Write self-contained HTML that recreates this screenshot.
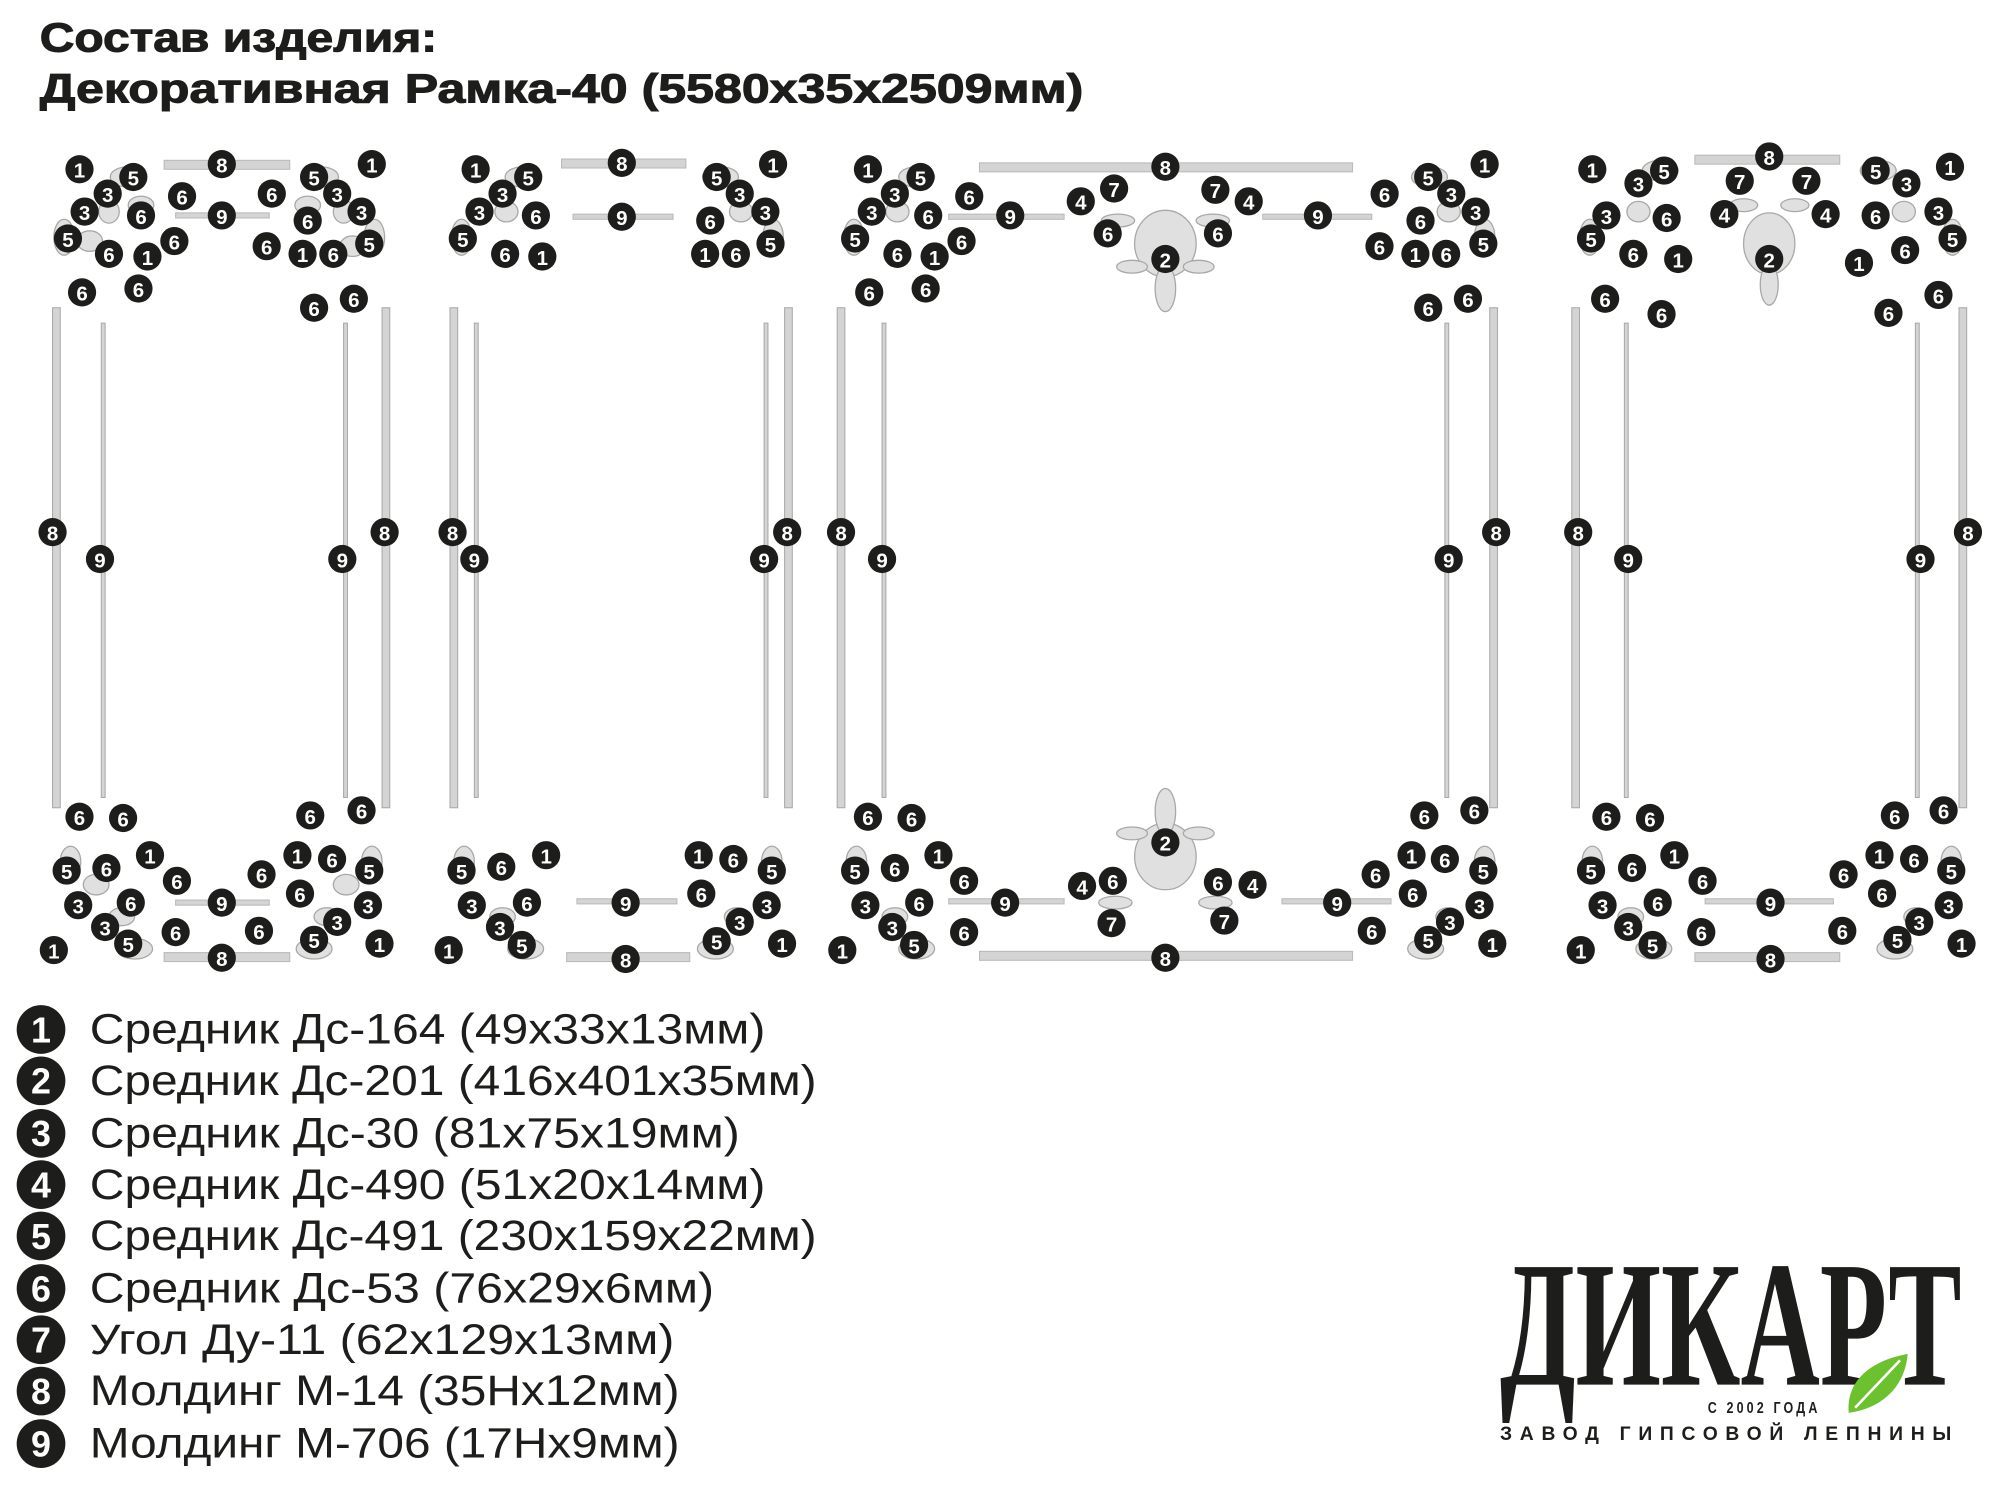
<!DOCTYPE html>
<html><head><meta charset="utf-8"><style>
html,body{margin:0;padding:0;background:#fff;width:2000px;height:1486px;overflow:hidden}
svg{display:block}
.m circle{fill:#1d1d1b;r:11px}
.m text{fill:#fff;font-family:"Liberation Sans",sans-serif;font-weight:bold;font-size:16px;text-anchor:middle;transform:translateY(0.5px)}
.b{fill:#d4d4d4;stroke:#b8b8b8;stroke-width:0.8}
.v{fill:#d4d4d4;stroke:#a8a8a8;stroke-width:0.8}
.o{fill:#e0e0e0;stroke:#a8a8a8;stroke-width:1}
.t{font-family:"Liberation Sans",sans-serif;font-weight:bold;font-size:32px;fill:#1d1d1b;stroke:#1d1d1b;stroke-width:0.8}
.lg circle{fill:#1d1d1b}
.lg text.n{fill:#fff;font-family:"Liberation Sans",sans-serif;font-weight:bold;font-size:28px;text-anchor:middle}
.lt{font-family:"Liberation Sans",sans-serif;font-size:33px;fill:#1d1d1b}
</style></head><body>
<svg width="2000" height="1486" viewBox="0 0 1560 1159" xmlns="http://www.w3.org/2000/svg">
<text class="t" x="31" y="40" textLength="310" lengthAdjust="spacingAndGlyphs">Состав изделия:</text>
<text class="t" x="31" y="80" textLength="814" lengthAdjust="spacingAndGlyphs">Декоративная Рамка-40 (5580х35х2509мм)</text>

<g>
<rect class="b" x="128" y="125" width="98" height="7"/><rect class="b" x="137" y="166" width="73" height="4"/>
<rect class="b" x="137" y="702" width="73" height="4"/><rect class="b" x="128" y="743" width="98" height="7"/>
<rect class="v" x="41" y="240" width="6" height="390"/><rect class="v" x="79" y="252" width="3" height="370"/>
<rect class="v" x="268" y="252" width="3" height="370"/><rect class="v" x="298" y="240" width="6" height="390"/>

<rect class="b" x="438" y="124" width="97" height="7"/><rect class="b" x="447" y="167" width="78" height="4"/>
<rect class="b" x="450" y="701" width="78" height="4"/><rect class="b" x="442" y="743" width="96" height="7"/>
<rect class="v" x="351" y="240" width="6" height="390"/><rect class="v" x="370" y="252" width="3" height="370"/>
<rect class="v" x="596" y="252" width="3" height="370"/><rect class="v" x="612" y="240" width="6" height="390"/>

<rect class="b" x="764" y="127" width="291" height="7"/><rect class="b" x="740" y="167" width="90" height="4"/><rect class="b" x="985" y="167" width="85" height="4"/>
<rect class="b" x="740" y="701" width="90" height="4"/><rect class="b" x="1000" y="701" width="85" height="4"/><rect class="b" x="764" y="742" width="291" height="7"/>
<rect class="v" x="653" y="240" width="6" height="390"/><rect class="v" x="688" y="252" width="3" height="370"/>
<rect class="v" x="1127" y="252" width="3" height="370"/><rect class="v" x="1162" y="240" width="6" height="390"/>

<rect class="b" x="1322" y="121" width="113" height="7"/>
<rect class="b" x="1330" y="701" width="100" height="4"/><rect class="b" x="1322" y="743" width="113" height="7"/>
<rect class="v" x="1226" y="240" width="6" height="390"/><rect class="v" x="1267" y="252" width="3" height="370"/>
<rect class="v" x="1494" y="252" width="3" height="370"/><rect class="v" x="1528" y="240" width="6" height="390"/>
</g>

<g class="o">
<ellipse cx="100" cy="138" rx="14" ry="8"/><ellipse cx="110" cy="160" rx="10" ry="7"/><ellipse cx="85" cy="165" rx="8" ry="9"/><ellipse cx="50" cy="185" rx="8" ry="14"/><ellipse cx="70" cy="188" rx="10" ry="8"/>
<ellipse cx="250" cy="138" rx="14" ry="8"/><ellipse cx="240" cy="160" rx="10" ry="7"/><ellipse cx="268" cy="165" rx="8" ry="9"/><ellipse cx="292" cy="185" rx="8" ry="14"/><ellipse cx="275" cy="192" rx="10" ry="8"/>
<ellipse cx="55" cy="672" rx="8" ry="12"/><ellipse cx="75" cy="690" rx="10" ry="8"/><ellipse cx="95" cy="715" rx="10" ry="7"/><ellipse cx="105" cy="740" rx="14" ry="8"/>
<ellipse cx="290" cy="672" rx="8" ry="12"/><ellipse cx="270" cy="690" rx="10" ry="8"/><ellipse cx="255" cy="715" rx="10" ry="7"/><ellipse cx="245" cy="740" rx="14" ry="8"/>
<ellipse cx="408" cy="138" rx="14" ry="8"/><ellipse cx="395" cy="165" rx="9" ry="8"/><ellipse cx="360" cy="185" rx="8" ry="14"/>
<ellipse cx="562" cy="138" rx="14" ry="8"/><ellipse cx="578" cy="165" rx="9" ry="8"/><ellipse cx="603" cy="185" rx="8" ry="14"/>
<ellipse cx="362" cy="672" rx="8" ry="12"/><ellipse cx="392" cy="715" rx="10" ry="7"/><ellipse cx="410" cy="740" rx="14" ry="8"/>
<ellipse cx="602" cy="672" rx="8" ry="12"/><ellipse cx="575" cy="715" rx="10" ry="7"/><ellipse cx="558" cy="740" rx="14" ry="8"/>
<ellipse cx="715" cy="138" rx="14" ry="8"/><ellipse cx="700" cy="165" rx="9" ry="8"/><ellipse cx="666" cy="185" rx="8" ry="14"/>
<ellipse cx="1115" cy="138" rx="14" ry="8"/><ellipse cx="1130" cy="165" rx="9" ry="8"/><ellipse cx="1158" cy="185" rx="8" ry="14"/>
<ellipse cx="668" cy="672" rx="8" ry="12"/><ellipse cx="698" cy="715" rx="10" ry="7"/><ellipse cx="715" cy="740" rx="14" ry="8"/>
<ellipse cx="1158" cy="672" rx="8" ry="12"/><ellipse cx="1130" cy="715" rx="10" ry="7"/><ellipse cx="1112" cy="740" rx="14" ry="8"/>
<ellipse cx="909" cy="190" rx="24" ry="26"/><ellipse cx="909" cy="225" rx="8" ry="18"/><ellipse cx="883" cy="208" rx="12" ry="5"/><ellipse cx="935" cy="208" rx="12" ry="5"/>
<ellipse cx="872" cy="172" rx="13" ry="5"/><ellipse cx="946" cy="172" rx="13" ry="5"/>
<ellipse cx="909" cy="668" rx="24" ry="26"/><ellipse cx="909" cy="633" rx="8" ry="18"/><ellipse cx="883" cy="650" rx="12" ry="5"/><ellipse cx="935" cy="650" rx="12" ry="5"/>
<ellipse cx="870" cy="704" rx="13" ry="5"/><ellipse cx="948" cy="704" rx="13" ry="5"/>
<ellipse cx="1295" cy="133" rx="14" ry="8"/><ellipse cx="1278" cy="165" rx="9" ry="8"/><ellipse cx="1240" cy="185" rx="8" ry="14"/>
<ellipse cx="1465" cy="133" rx="14" ry="8"/><ellipse cx="1485" cy="165" rx="9" ry="8"/><ellipse cx="1523" cy="185" rx="8" ry="14"/>
<ellipse cx="1380" cy="190" rx="20" ry="24"/><ellipse cx="1380" cy="222" rx="7" ry="16"/><ellipse cx="1360" cy="160" rx="11" ry="5"/><ellipse cx="1400" cy="160" rx="11" ry="5"/>
<ellipse cx="1242" cy="672" rx="8" ry="12"/><ellipse cx="1272" cy="715" rx="10" ry="7"/><ellipse cx="1290" cy="740" rx="14" ry="8"/>
<ellipse cx="1522" cy="672" rx="8" ry="12"/><ellipse cx="1495" cy="715" rx="10" ry="7"/><ellipse cx="1478" cy="740" rx="14" ry="8"/>
</g>

<g class="m">
<circle cx="62" cy="132" r="11"/><text x="62" y="138">1</text>
<circle cx="104" cy="138" r="11"/><text x="104" y="144">5</text>
<circle cx="84" cy="151" r="11"/><text x="84" y="157">3</text>
<circle cx="142" cy="153" r="11"/><text x="142" y="159">6</text>
<circle cx="66" cy="165" r="11"/><text x="66" y="171">3</text>
<circle cx="110" cy="168" r="11"/><text x="110" y="174">6</text>
<circle cx="173" cy="168" r="11"/><text x="173" y="174">9</text>
<circle cx="173" cy="128" r="11"/><text x="173" y="134">8</text>
<circle cx="212" cy="151" r="11"/><text x="212" y="157">6</text>
<circle cx="240" cy="172" r="11"/><text x="240" y="178">6</text>
<circle cx="263" cy="151" r="11"/><text x="263" y="157">3</text>
<circle cx="245" cy="138" r="11"/><text x="245" y="144">5</text>
<circle cx="290" cy="128" r="11"/><text x="290" y="134">1</text>
<circle cx="282" cy="165" r="11"/><text x="282" y="171">3</text>
<circle cx="53" cy="186" r="11"/><text x="53" y="192">5</text>
<circle cx="85" cy="198" r="11"/><text x="85" y="204">6</text>
<circle cx="115" cy="200" r="11"/><text x="115" y="206">1</text>
<circle cx="136" cy="188" r="11"/><text x="136" y="194">6</text>
<circle cx="208" cy="192" r="11"/><text x="208" y="198">6</text>
<circle cx="236" cy="198" r="11"/><text x="236" y="204">1</text>
<circle cx="260" cy="198" r="11"/><text x="260" y="204">6</text>
<circle cx="288" cy="190" r="11"/><text x="288" y="196">5</text>
<circle cx="64" cy="228" r="11"/><text x="64" y="234">6</text>
<circle cx="108" cy="225" r="11"/><text x="108" y="231">6</text>
<circle cx="245" cy="240" r="11"/><text x="245" y="246">6</text>
<circle cx="276" cy="233" r="11"/><text x="276" y="239">6</text>
<circle cx="41" cy="415" r="11"/><text x="41" y="421">8</text>
<circle cx="78" cy="436" r="11"/><text x="78" y="442">9</text>
<circle cx="267" cy="436" r="11"/><text x="267" y="442">9</text>
<circle cx="300" cy="415" r="11"/><text x="300" y="421">8</text>
<circle cx="62" cy="637" r="11"/><text x="62" y="643">6</text>
<circle cx="96" cy="638" r="11"/><text x="96" y="644">6</text>
<circle cx="242" cy="636" r="11"/><text x="242" y="642">6</text>
<circle cx="282" cy="632" r="11"/><text x="282" y="638">6</text>
<circle cx="52" cy="679" r="11"/><text x="52" y="685">5</text>
<circle cx="83" cy="677" r="11"/><text x="83" y="683">6</text>
<circle cx="117" cy="667" r="11"/><text x="117" y="673">1</text>
<circle cx="138" cy="687" r="11"/><text x="138" y="693">6</text>
<circle cx="61" cy="706" r="11"/><text x="61" y="712">3</text>
<circle cx="102" cy="704" r="11"/><text x="102" y="710">6</text>
<circle cx="82" cy="723" r="11"/><text x="82" y="729">3</text>
<circle cx="100" cy="736" r="11"/><text x="100" y="742">5</text>
<circle cx="42" cy="741" r="11"/><text x="42" y="747">1</text>
<circle cx="137" cy="727" r="11"/><text x="137" y="733">6</text>
<circle cx="173" cy="704" r="11"/><text x="173" y="710">9</text>
<circle cx="173" cy="747" r="11"/><text x="173" y="753">8</text>
<circle cx="204" cy="682" r="11"/><text x="204" y="688">6</text>
<circle cx="232" cy="667" r="11"/><text x="232" y="673">1</text>
<circle cx="259" cy="670" r="11"/><text x="259" y="676">6</text>
<circle cx="288" cy="679" r="11"/><text x="288" y="685">5</text>
<circle cx="234" cy="697" r="11"/><text x="234" y="703">6</text>
<circle cx="287" cy="706" r="11"/><text x="287" y="712">3</text>
<circle cx="202" cy="726" r="11"/><text x="202" y="732">6</text>
<circle cx="263" cy="719" r="11"/><text x="263" y="725">3</text>
<circle cx="245" cy="733" r="11"/><text x="245" y="739">5</text>
<circle cx="296" cy="736" r="11"/><text x="296" y="742">1</text>
<circle cx="371" cy="132" r="11"/><text x="371" y="138">1</text>
<circle cx="412" cy="138" r="11"/><text x="412" y="144">5</text>
<circle cx="392" cy="151" r="11"/><text x="392" y="157">3</text>
<circle cx="374" cy="165" r="11"/><text x="374" y="171">3</text>
<circle cx="418" cy="168" r="11"/><text x="418" y="174">6</text>
<circle cx="361" cy="186" r="11"/><text x="361" y="192">5</text>
<circle cx="394" cy="198" r="11"/><text x="394" y="204">6</text>
<circle cx="423" cy="200" r="11"/><text x="423" y="206">1</text>
<circle cx="485" cy="127" r="11"/><text x="485" y="133">8</text>
<circle cx="485" cy="169" r="11"/><text x="485" y="175">9</text>
<circle cx="559" cy="138" r="11"/><text x="559" y="144">5</text>
<circle cx="603" cy="128" r="11"/><text x="603" y="134">1</text>
<circle cx="577" cy="151" r="11"/><text x="577" y="157">3</text>
<circle cx="597" cy="165" r="11"/><text x="597" y="171">3</text>
<circle cx="554" cy="172" r="11"/><text x="554" y="178">6</text>
<circle cx="601" cy="190" r="11"/><text x="601" y="196">5</text>
<circle cx="550" cy="198" r="11"/><text x="550" y="204">1</text>
<circle cx="574" cy="198" r="11"/><text x="574" y="204">6</text>
<circle cx="353" cy="415" r="11"/><text x="353" y="421">8</text>
<circle cx="370" cy="436" r="11"/><text x="370" y="442">9</text>
<circle cx="596" cy="436" r="11"/><text x="596" y="442">9</text>
<circle cx="614" cy="415" r="11"/><text x="614" y="421">8</text>
<circle cx="360" cy="679" r="11"/><text x="360" y="685">5</text>
<circle cx="391" cy="676" r="11"/><text x="391" y="682">6</text>
<circle cx="426" cy="667" r="11"/><text x="426" y="673">1</text>
<circle cx="368" cy="706" r="11"/><text x="368" y="712">3</text>
<circle cx="411" cy="704" r="11"/><text x="411" y="710">6</text>
<circle cx="390" cy="723" r="11"/><text x="390" y="729">3</text>
<circle cx="407" cy="737" r="11"/><text x="407" y="743">5</text>
<circle cx="350" cy="741" r="11"/><text x="350" y="747">1</text>
<circle cx="488" cy="704" r="11"/><text x="488" y="710">9</text>
<circle cx="488" cy="748" r="11"/><text x="488" y="754">8</text>
<circle cx="545" cy="667" r="11"/><text x="545" y="673">1</text>
<circle cx="572" cy="670" r="11"/><text x="572" y="676">6</text>
<circle cx="602" cy="679" r="11"/><text x="602" y="685">5</text>
<circle cx="547" cy="697" r="11"/><text x="547" y="703">6</text>
<circle cx="598" cy="706" r="11"/><text x="598" y="712">3</text>
<circle cx="577" cy="719" r="11"/><text x="577" y="725">3</text>
<circle cx="559" cy="734" r="11"/><text x="559" y="740">5</text>
<circle cx="610" cy="736" r="11"/><text x="610" y="742">1</text>
<circle cx="677" cy="132" r="11"/><text x="677" y="138">1</text>
<circle cx="718" cy="138" r="11"/><text x="718" y="144">5</text>
<circle cx="698" cy="151" r="11"/><text x="698" y="157">3</text>
<circle cx="756" cy="153" r="11"/><text x="756" y="159">6</text>
<circle cx="680" cy="165" r="11"/><text x="680" y="171">3</text>
<circle cx="724" cy="168" r="11"/><text x="724" y="174">6</text>
<circle cx="788" cy="168" r="11"/><text x="788" y="174">9</text>
<circle cx="667" cy="186" r="11"/><text x="667" y="192">5</text>
<circle cx="700" cy="198" r="11"/><text x="700" y="204">6</text>
<circle cx="729" cy="200" r="11"/><text x="729" y="206">1</text>
<circle cx="750" cy="188" r="11"/><text x="750" y="194">6</text>
<circle cx="678" cy="228" r="11"/><text x="678" y="234">6</text>
<circle cx="722" cy="225" r="11"/><text x="722" y="231">6</text>
<circle cx="909" cy="130" r="11"/><text x="909" y="136">8</text>
<circle cx="843" cy="157" r="11"/><text x="843" y="163">4</text>
<circle cx="869" cy="147" r="11"/><text x="869" y="153">7</text>
<circle cx="864" cy="182" r="11"/><text x="864" y="188">6</text>
<circle cx="909" cy="202" r="11"/><text x="909" y="208">2</text>
<circle cx="948" cy="148" r="11"/><text x="948" y="154">7</text>
<circle cx="974" cy="157" r="11"/><text x="974" y="163">4</text>
<circle cx="950" cy="182" r="11"/><text x="950" y="188">6</text>
<circle cx="1028" cy="168" r="11"/><text x="1028" y="174">9</text>
<circle cx="1080" cy="151" r="11"/><text x="1080" y="157">6</text>
<circle cx="1114" cy="138" r="11"/><text x="1114" y="144">5</text>
<circle cx="1158" cy="128" r="11"/><text x="1158" y="134">1</text>
<circle cx="1132" cy="151" r="11"/><text x="1132" y="157">3</text>
<circle cx="1151" cy="165" r="11"/><text x="1151" y="171">3</text>
<circle cx="1108" cy="172" r="11"/><text x="1108" y="178">6</text>
<circle cx="1076" cy="192" r="11"/><text x="1076" y="198">6</text>
<circle cx="1104" cy="198" r="11"/><text x="1104" y="204">1</text>
<circle cx="1128" cy="198" r="11"/><text x="1128" y="204">6</text>
<circle cx="1157" cy="190" r="11"/><text x="1157" y="196">5</text>
<circle cx="1114" cy="240" r="11"/><text x="1114" y="246">6</text>
<circle cx="1145" cy="233" r="11"/><text x="1145" y="239">6</text>
<circle cx="656" cy="415" r="11"/><text x="656" y="421">8</text>
<circle cx="688" cy="436" r="11"/><text x="688" y="442">9</text>
<circle cx="1130" cy="436" r="11"/><text x="1130" y="442">9</text>
<circle cx="1167" cy="415" r="11"/><text x="1167" y="421">8</text>
<circle cx="677" cy="637" r="11"/><text x="677" y="643">6</text>
<circle cx="711" cy="638" r="11"/><text x="711" y="644">6</text>
<circle cx="667" cy="679" r="11"/><text x="667" y="685">5</text>
<circle cx="698" cy="677" r="11"/><text x="698" y="683">6</text>
<circle cx="732" cy="667" r="11"/><text x="732" y="673">1</text>
<circle cx="752" cy="687" r="11"/><text x="752" y="693">6</text>
<circle cx="675" cy="706" r="11"/><text x="675" y="712">3</text>
<circle cx="717" cy="704" r="11"/><text x="717" y="710">6</text>
<circle cx="696" cy="723" r="11"/><text x="696" y="729">3</text>
<circle cx="713" cy="737" r="11"/><text x="713" y="743">5</text>
<circle cx="657" cy="741" r="11"/><text x="657" y="747">1</text>
<circle cx="752" cy="727" r="11"/><text x="752" y="733">6</text>
<circle cx="784" cy="704" r="11"/><text x="784" y="710">9</text>
<circle cx="909" cy="657" r="11"/><text x="909" y="663">2</text>
<circle cx="844" cy="691" r="11"/><text x="844" y="697">4</text>
<circle cx="868" cy="687" r="11"/><text x="868" y="693">6</text>
<circle cx="867" cy="720" r="11"/><text x="867" y="726">7</text>
<circle cx="950" cy="688" r="11"/><text x="950" y="694">6</text>
<circle cx="977" cy="690" r="11"/><text x="977" y="696">4</text>
<circle cx="955" cy="718" r="11"/><text x="955" y="724">7</text>
<circle cx="1043" cy="704" r="11"/><text x="1043" y="710">9</text>
<circle cx="909" cy="747" r="11"/><text x="909" y="753">8</text>
<circle cx="1111" cy="636" r="11"/><text x="1111" y="642">6</text>
<circle cx="1150" cy="632" r="11"/><text x="1150" y="638">6</text>
<circle cx="1073" cy="682" r="11"/><text x="1073" y="688">6</text>
<circle cx="1101" cy="667" r="11"/><text x="1101" y="673">1</text>
<circle cx="1127" cy="670" r="11"/><text x="1127" y="676">6</text>
<circle cx="1157" cy="679" r="11"/><text x="1157" y="685">5</text>
<circle cx="1102" cy="697" r="11"/><text x="1102" y="703">6</text>
<circle cx="1154" cy="706" r="11"/><text x="1154" y="712">3</text>
<circle cx="1070" cy="726" r="11"/><text x="1070" y="732">6</text>
<circle cx="1131" cy="719" r="11"/><text x="1131" y="725">3</text>
<circle cx="1114" cy="733" r="11"/><text x="1114" y="739">5</text>
<circle cx="1164" cy="736" r="11"/><text x="1164" y="742">1</text>
<circle cx="1242" cy="132" r="11"/><text x="1242" y="138">1</text>
<circle cx="1298" cy="133" r="11"/><text x="1298" y="139">5</text>
<circle cx="1278" cy="143" r="11"/><text x="1278" y="149">3</text>
<circle cx="1253" cy="168" r="11"/><text x="1253" y="174">3</text>
<circle cx="1300" cy="170" r="11"/><text x="1300" y="176">6</text>
<circle cx="1241" cy="186" r="11"/><text x="1241" y="192">5</text>
<circle cx="1274" cy="198" r="11"/><text x="1274" y="204">6</text>
<circle cx="1309" cy="202" r="11"/><text x="1309" y="208">1</text>
<circle cx="1380" cy="122" r="11"/><text x="1380" y="128">8</text>
<circle cx="1357" cy="141" r="11"/><text x="1357" y="147">7</text>
<circle cx="1409" cy="141" r="11"/><text x="1409" y="147">7</text>
<circle cx="1345" cy="167" r="11"/><text x="1345" y="173">4</text>
<circle cx="1424" cy="167" r="11"/><text x="1424" y="173">4</text>
<circle cx="1380" cy="202" r="11"/><text x="1380" y="208">2</text>
<circle cx="1463" cy="133" r="11"/><text x="1463" y="139">5</text>
<circle cx="1487" cy="143" r="11"/><text x="1487" y="149">3</text>
<circle cx="1521" cy="130" r="11"/><text x="1521" y="136">1</text>
<circle cx="1463" cy="168" r="11"/><text x="1463" y="174">6</text>
<circle cx="1512" cy="165" r="11"/><text x="1512" y="171">3</text>
<circle cx="1523" cy="186" r="11"/><text x="1523" y="192">5</text>
<circle cx="1486" cy="195" r="11"/><text x="1486" y="201">6</text>
<circle cx="1450" cy="205" r="11"/><text x="1450" y="211">1</text>
<circle cx="1252" cy="233" r="11"/><text x="1252" y="239">6</text>
<circle cx="1296" cy="245" r="11"/><text x="1296" y="251">6</text>
<circle cx="1473" cy="244" r="11"/><text x="1473" y="250">6</text>
<circle cx="1512" cy="230" r="11"/><text x="1512" y="236">6</text>
<circle cx="1231" cy="415" r="11"/><text x="1231" y="421">8</text>
<circle cx="1270" cy="436" r="11"/><text x="1270" y="442">9</text>
<circle cx="1498" cy="436" r="11"/><text x="1498" y="442">9</text>
<circle cx="1535" cy="415" r="11"/><text x="1535" y="421">8</text>
<circle cx="1253" cy="637" r="11"/><text x="1253" y="643">6</text>
<circle cx="1287" cy="638" r="11"/><text x="1287" y="644">6</text>
<circle cx="1241" cy="679" r="11"/><text x="1241" y="685">5</text>
<circle cx="1273" cy="677" r="11"/><text x="1273" y="683">6</text>
<circle cx="1306" cy="667" r="11"/><text x="1306" y="673">1</text>
<circle cx="1328" cy="687" r="11"/><text x="1328" y="693">6</text>
<circle cx="1250" cy="706" r="11"/><text x="1250" y="712">3</text>
<circle cx="1293" cy="704" r="11"/><text x="1293" y="710">6</text>
<circle cx="1270" cy="723" r="11"/><text x="1270" y="729">3</text>
<circle cx="1289" cy="737" r="11"/><text x="1289" y="743">5</text>
<circle cx="1233" cy="741" r="11"/><text x="1233" y="747">1</text>
<circle cx="1327" cy="727" r="11"/><text x="1327" y="733">6</text>
<circle cx="1381" cy="704" r="11"/><text x="1381" y="710">9</text>
<circle cx="1381" cy="748" r="11"/><text x="1381" y="754">8</text>
<circle cx="1478" cy="636" r="11"/><text x="1478" y="642">6</text>
<circle cx="1516" cy="632" r="11"/><text x="1516" y="638">6</text>
<circle cx="1438" cy="682" r="11"/><text x="1438" y="688">6</text>
<circle cx="1466" cy="667" r="11"/><text x="1466" y="673">1</text>
<circle cx="1493" cy="670" r="11"/><text x="1493" y="676">6</text>
<circle cx="1522" cy="679" r="11"/><text x="1522" y="685">5</text>
<circle cx="1468" cy="697" r="11"/><text x="1468" y="703">6</text>
<circle cx="1520" cy="706" r="11"/><text x="1520" y="712">3</text>
<circle cx="1437" cy="726" r="11"/><text x="1437" y="732">6</text>
<circle cx="1497" cy="719" r="11"/><text x="1497" y="725">3</text>
<circle cx="1480" cy="733" r="11"/><text x="1480" y="739">5</text>
<circle cx="1530" cy="736" r="11"/><text x="1530" y="742">1</text>
</g>

<g class="lg">
<circle cx="32" cy="803" r="19"/><text class="n" x="32" y="813">1</text>
<circle cx="32" cy="843" r="19"/><text class="n" x="32" y="853">2</text>
<circle cx="32" cy="884" r="19"/><text class="n" x="32" y="894">3</text>
<circle cx="32" cy="924" r="19"/><text class="n" x="32" y="934">4</text>
<circle cx="32" cy="964" r="19"/><text class="n" x="32" y="974">5</text>
<circle cx="32" cy="1005" r="19"/><text class="n" x="32" y="1015">6</text>
<circle cx="32" cy="1045" r="19"/><text class="n" x="32" y="1055">7</text>
<circle cx="32" cy="1085" r="19"/><text class="n" x="32" y="1095">8</text>
<circle cx="32" cy="1126" r="19"/><text class="n" x="32" y="1136">9</text>
</g>
<g class="lt">
<text x="70" y="814" textLength="527" lengthAdjust="spacingAndGlyphs">Средник Дс-164 (49х33х13мм)</text>
<text x="70" y="854" textLength="567" lengthAdjust="spacingAndGlyphs">Средник Дс-201 (416х401х35мм)</text>
<text x="70" y="895" textLength="507" lengthAdjust="spacingAndGlyphs">Средник Дс-30 (81х75х19мм)</text>
<text x="70" y="935" textLength="527" lengthAdjust="spacingAndGlyphs">Средник Дс-490 (51х20х14мм)</text>
<text x="70" y="975" textLength="567" lengthAdjust="spacingAndGlyphs">Средник Дс-491 (230х159х22мм)</text>
<text x="70" y="1016" textLength="487" lengthAdjust="spacingAndGlyphs">Средник Дс-53 (76х29х6мм)</text>
<text x="70" y="1056" textLength="456" lengthAdjust="spacingAndGlyphs">Угол Ду-11 (62х129х13мм)</text>
<text x="70" y="1096" textLength="460" lengthAdjust="spacingAndGlyphs">Молдинг М-14 (35Нх12мм)</text>
<text x="70" y="1137" textLength="460" lengthAdjust="spacingAndGlyphs">Молдинг М-706 (17Нх9мм)</text>
</g>

<text x="1170" y="1080" font-family="Liberation Serif,serif" font-weight="bold" font-size="140" fill="#1d1d1b" textLength="360" lengthAdjust="spacingAndGlyphs">ДИКАРТ</text>
<path d="M1442,1102 C1440,1080 1455,1062 1488,1056 C1486,1080 1470,1098 1442,1102 Z" fill="#6cc12e"/>
<path d="M1447,1098 L1482,1061" stroke="#fff" stroke-width="2"/>
<text x="1332" y="1102" font-family="Liberation Sans,sans-serif" font-weight="bold" font-size="12" fill="#1d1d1b" textLength="88" lengthAdjust="spacingAndGlyphs" letter-spacing="3">С 2002 ГОДА</text>
<text x="1170" y="1123" font-family="Liberation Sans,sans-serif" font-weight="bold" font-size="15" fill="#1d1d1b" textLength="358" lengthAdjust="spacingAndGlyphs" letter-spacing="6">ЗАВОД ГИПСОВОЙ ЛЕПНИНЫ</text>
</svg>
</body></html>
